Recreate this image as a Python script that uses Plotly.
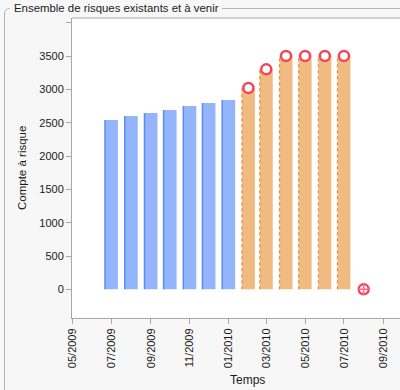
import pandas as pd
import plotly.graph_objects as go

# ---- data ----
actual_months = ["2009-07-01", "2009-08-01", "2009-09-01", "2009-10-01",
                 "2009-11-01", "2009-12-01", "2010-01-01"]
actual_counts = [2540, 2600, 2645, 2690, 2750, 2795, 2840]

forecast_months = ["2010-02-01", "2010-03-01", "2010-04-01",
                   "2010-05-01", "2010-06-01", "2010-07-01"]
forecast_counts = [3020, 3300, 3500, 3500, 3500, 3500]

end_month = ["2010-08-01"]
end_count = [0]

y_ticks = [0, 500, 1000, 1500, 2000, 2500, 3000, 3500, 4000]
y_ticktext = ["0", "500", "1000", "1500", "2000", "2500", "3000", "3500", ""]

title_text = "Ensemble de risques existants et à venir"
x_title = "Temps"
y_title = "Compte à risque"

# ---- styling ----
FONT = "Liberation Sans"
BLUE = "#94b4fc"
BLUE_EDGE = "#5b8cf4"
ORANGE = "#f0ba80"
ORANGE_EDGE = "#e0903c"
RED = "#f0485a"
GRAY = "#a8a8a8"

bar_days = 20.4
bar_w = bar_days * 86400000

L, T, B, W, H = 72, 18, 72, 400, 390
PW = W - L
PH = H - T - B


def px(x):
    return (x - L) / PW


def py(y):
    return (H - B - y) / PH


def edge_line(months, counts):
    xs, ys = [], []
    for m, v in zip(months, counts):
        x0 = pd.Timestamp(m) - pd.Timedelta(days=bar_days / 2)
        xs += [x0, x0, None]
        ys += [0, v, None]
    return xs, ys


fig = go.Figure()

fig.add_trace(go.Bar(x=pd.to_datetime(actual_months), y=actual_counts,
                     width=bar_w, marker=dict(color=BLUE, line=dict(width=0)),
                     showlegend=False))
fig.add_trace(go.Bar(x=pd.to_datetime(forecast_months), y=forecast_counts,
                     width=bar_w, marker=dict(color=ORANGE, line=dict(width=0)),
                     showlegend=False))

bx, by = edge_line(actual_months, actual_counts)
fig.add_trace(go.Scatter(x=bx, y=by, mode="lines",
                         line=dict(color=BLUE_EDGE, width=1.5),
                         showlegend=False, hoverinfo="skip"))
ox, oy = edge_line(forecast_months, forecast_counts)
fig.add_trace(go.Scatter(x=ox, y=oy, mode="lines",
                         line=dict(color=ORANGE_EDGE, width=1.2, dash="3px,3px"),
                         showlegend=False, hoverinfo="skip"))

fig.add_trace(go.Scatter(x=pd.to_datetime(forecast_months), y=forecast_counts,
                         mode="markers",
                         marker=dict(symbol="circle", size=10, color="white",
                                     line=dict(color=RED, width=2.5)),
                         showlegend=False))
fig.add_trace(go.Scatter(x=pd.to_datetime(end_month), y=end_count,
                         mode="markers",
                         marker=dict(symbol="circle", size=10, color="white",
                                     line=dict(color=RED, width=2.5)),
                         showlegend=False))
fig.add_trace(go.Scatter(x=pd.to_datetime(end_month), y=end_count,
                         mode="markers",
                         marker=dict(symbol="cross-thin-open", size=8,
                                     line=dict(color=ORANGE_EDGE, width=1.5)),
                         showlegend=False))

shapes = [
    # plot top border
    dict(type="line", xref="paper", yref="paper", x0=0, x1=1, y0=1, y1=1,
         line=dict(color=GRAY, width=1)),
    # group box
    dict(type="path", xref="paper", yref="paper",
         path=f"M {px(10)} {py(8.5)} Q {px(4.5)} {py(8.5)} {px(4.5)} {py(14)} L {px(4.5)} {py(400)}",
         line=dict(color="#b4b4b4", width=1)),
    dict(type="line", xref="paper", yref="paper", x0=px(222), x1=px(402),
         y0=py(8.5), y1=py(8.5), line=dict(color="#b4b4b4", width=1)),
]

annotations = [
    dict(text=title_text, xref="paper", yref="paper", x=px(12), y=py(8),
         xanchor="left", yanchor="middle", showarrow=False,
         font=dict(family=FONT, size=11.4, color="#1a1a1a")),
    dict(text=x_title, xref="paper", yref="paper", x=px(247), y=py(380),
         xanchor="center", yanchor="middle", showarrow=False,
         font=dict(family=FONT, size=12, color="#1a1a1a")),
    dict(text=y_title, xref="paper", yref="paper", x=px(22), y=0.5,
         xanchor="center", yanchor="middle", textangle=-90, showarrow=False,
         font=dict(family=FONT, size=11.5, color="#1a1a1a")),
]

fig.update_layout(
    width=W, height=H,
    margin=dict(l=L, r=0, t=T, b=B, pad=0, autoexpand=False),
    paper_bgcolor="#f7f7f7", plot_bgcolor="white",
    font=dict(family=FONT, size=11, color="#1a1a1a"),
    barmode="overlay",
    shapes=shapes, annotations=annotations,
    xaxis=dict(type="date", range=["2009-04-30", "2010-09-27"],
               tick0="2009-05-01", dtick="M2", tickformat="%m/%Y",
               tickangle=-90, ticks="outside", ticklen=5, tickcolor=GRAY,
               showline=True, linecolor=GRAY, linewidth=1,
               showgrid=False, zeroline=False, automargin=False,
               tickfont=dict(family=FONT, size=11, color="#1a1a1a")),
    yaxis=dict(range=[-430, 4070], tickvals=y_ticks, ticktext=y_ticktext,
               ticks="outside", ticklen=5, tickcolor=GRAY,
               showline=True, linecolor=GRAY, linewidth=1,
               showgrid=False, zeroline=False, automargin=False,
               tickfont=dict(family=FONT, size=11, color="#1a1a1a")),
)

fig.write_html("out.html", config={"displayModeBar": False},
               post_script="document.body.style.margin='0px';"
                           "document.body.style.overflow='hidden';")
